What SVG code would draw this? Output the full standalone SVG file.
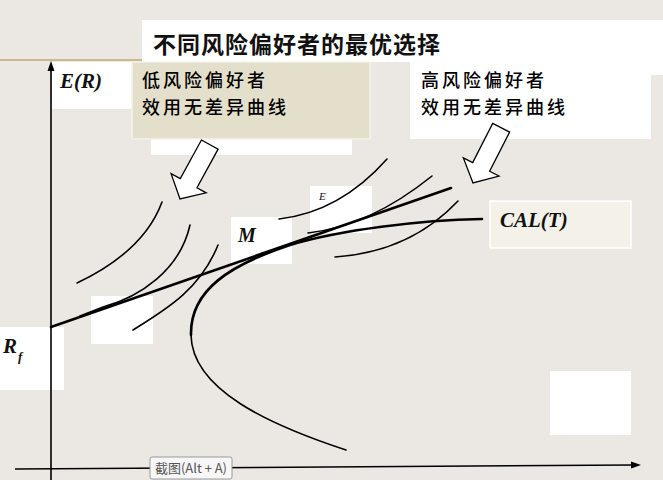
<svg xmlns="http://www.w3.org/2000/svg" width="663" height="480" viewBox="0 0 663 480">
<defs>
<style>
.cjk{font-family:"Noto Sans CJK SC","Noto Sans",sans-serif;fill:#111}
.sub{font-weight:500;fill:#000}
.lbl{font-family:"Liberation Serif",serif;font-weight:bold;font-style:italic;fill:#111}
.wb{fill:#ffffff}
.c{fill:none;stroke:#000;stroke-width:1.6;stroke-linecap:round}
.thick{fill:none;stroke:#000;stroke-width:2.6;stroke-linecap:round}
.blk{fill:#ffffff;stroke:#000;stroke-width:1.3;stroke-linejoin:miter}
</style>
<path id="barrow" d="M-9.5,-62 L9.5,-62 L9.5,-18 L20,-18 L0,0 L-20,-18 L-9.5,-18 Z"/>
</defs>
<rect x="0" y="0" width="663" height="480" fill="#ebe7e3"/>
<line x1="0" y1="60" x2="142" y2="60" stroke="#c9b98f" stroke-width="2"/>

<g id="backplates">
<rect class="wb" x="52" y="62" width="90" height="47"/>
<rect class="wb" x="151" y="110" width="201" height="45"/>
<rect class="wb" x="651" y="62" width="12" height="13"/>
<rect class="wb" x="91" y="296" width="62" height="48"/>
<rect class="wb" x="550" y="371" width="81" height="64"/>
</g>

<g id="title">
<rect class="wb" x="142" y="20" width="521" height="42"/>
<text class="cjk" x="153" y="53" font-size="23" font-weight="bold" letter-spacing="1">不同风险偏好者的最优选择</text>
</g>

<g id="low-risk-label">
<rect x="132" y="62" width="238" height="77" fill="#e4dfca" stroke="#f4f2ea" stroke-width="1.5"/>
<text class="cjk sub" x="142" y="87" font-size="18" letter-spacing="3">低风险偏好者</text>
<text class="cjk sub" x="142" y="114" font-size="18" letter-spacing="3">效用无差异曲线</text>
</g>

<g id="high-risk-label">
<rect class="wb" x="410" y="62" width="241" height="77"/>
<text class="cjk sub" x="421" y="87" font-size="18" letter-spacing="3">高风险偏好者</text>
<text class="cjk sub" x="421" y="114" font-size="18" letter-spacing="3">效用无差异曲线</text>
</g>

<g id="axis-labels">
<text class="lbl" x="60" y="88" font-size="21">E(R)</text>
<rect class="wb" x="0" y="327" width="64" height="63"/>
<text class="lbl" x="3" y="353" font-size="21">R</text>
<text class="lbl" x="18" y="361" font-size="13">f</text>
</g>

<g id="node-M">
<rect class="wb" x="231" y="217" width="61" height="47"/>
<text class="lbl" x="238" y="242" font-size="20">M</text>
</g>

<g id="node-E">
<rect class="wb" x="310" y="186" width="62" height="47"/>
<text x="319" y="200" font-family="Liberation Serif,serif" font-style="italic" font-size="11" fill="#111">E</text>
</g>

<g id="node-CAL">
<rect x="490" y="201" width="141" height="47" fill="#f3f1e8" stroke="#ffffff" stroke-width="1.5"/>
<text class="lbl" x="500" y="227" font-size="21">CAL(T)</text>
</g>

<g id="axes">
<line x1="51" y1="480" x2="51" y2="68" stroke="#000" stroke-width="1.6"/>
<path d="M51,61 L47.5,71 L54.5,71 Z" fill="#000"/>
<line x1="15" y1="469" x2="633" y2="465" stroke="#000" stroke-width="1.6"/>
<path d="M641,465 L631,461.5 L631,468.5 Z" fill="#000"/>
</g>

<g id="connectors">
<use href="#barrow" class="blk" transform="translate(180,199) rotate(28.7)"/>
<use href="#barrow" class="blk" transform="translate(473,183) rotate(27)"/>
<line class="thick" x1="51" y1="327" x2="451" y2="188"/>
<path class="c" d="M346,450 C270,425 192,390 191,335"/>
<path class="thick" d="M191,335 C190,290 230,265 290,245 C340,230 420,220 482,219"/>
<path class="c" d="M77,283 C115,265 148,240 162,202"/>
<path class="c" d="M80,316 L103,307 C140,297 180,270 190,225"/>
<path class="c" d="M133,330 C165,310 200,290 218,245"/>
<path class="c" d="M279,219 Q340,212 387,159"/>
<path class="c" d="M308,233 Q370,226 432,176"/>
<path class="c" d="M335,257 Q410,252 458,201"/>
</g>

<g id="tooltip">
<rect x="150" y="457" width="82" height="22" rx="2" fill="#f7f7f7" stroke="#9a9a9a" stroke-width="1"/>
<text x="155" y="473" font-family="Noto Sans CJK SC,sans-serif" font-size="13" fill="#555" textLength="72" lengthAdjust="spacing">截图(Alt + A)</text>
</g>
</svg>
